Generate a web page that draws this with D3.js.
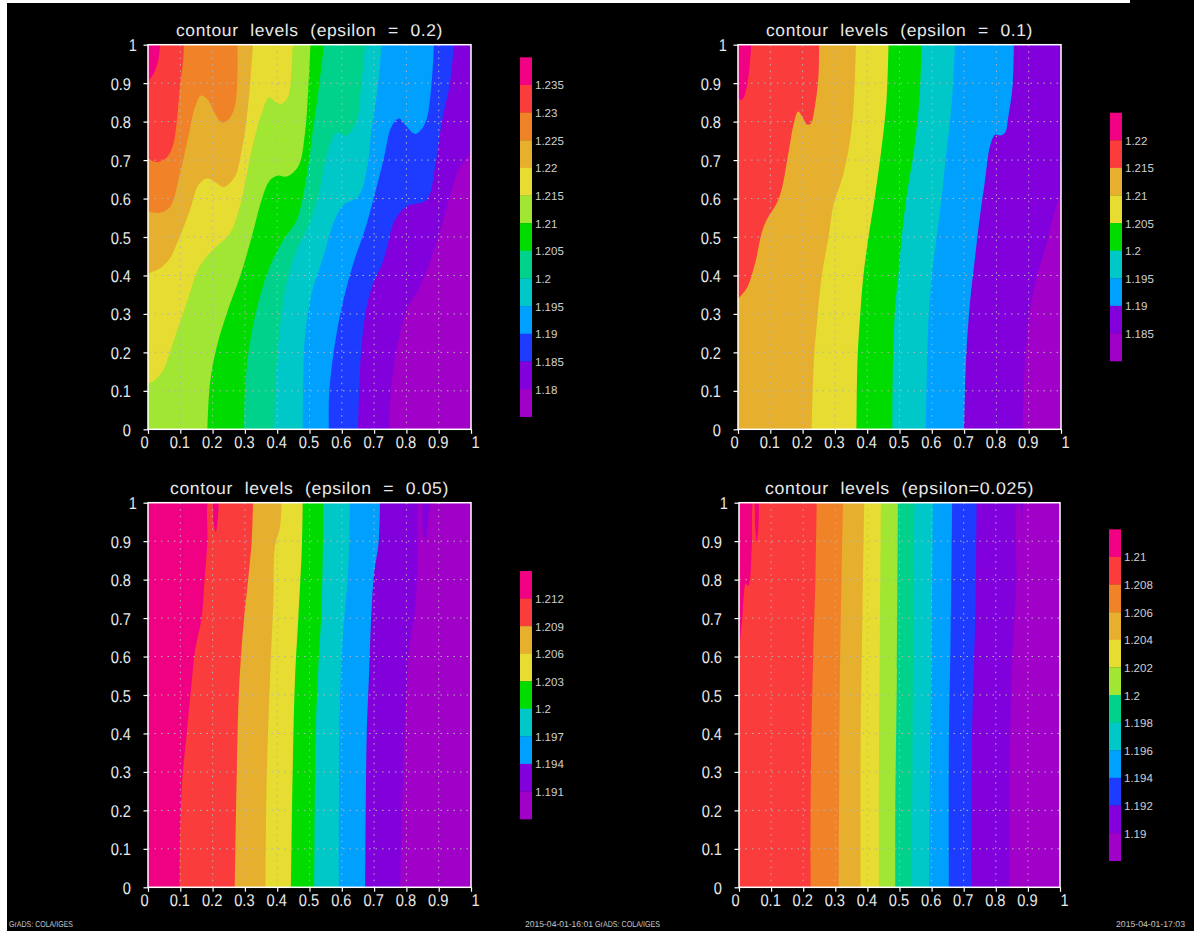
<!DOCTYPE html>
<html><head><meta charset="utf-8">
<script src="https://cdn.jsdelivr.net/npm/d3@7"></script>
<style>
html,body{margin:0;padding:0;background:#fff}
svg{display:block}
text{font-family:"Liberation Sans",sans-serif;text-rendering:geometricPrecision}
.title{word-spacing:6px;letter-spacing:.6px}
</style></head><body><svg id="c" width="1194" height="931"></svg>
<script>
// GrADS default colours
const magenta="#f00082",red="#fa3c3c",orange="#f08228",gold="#e6af2d",yellow="#e6dc32",lime="#a0e632",
      green="#00dc00",sea="#00d28c",cyan="#00c8c8",sky="#00a0ff",blue="#1e3cff",violet="#8200dc",purple="#a000c8";

const titles=["contour levels (epsilon = 0.2)","contour levels (epsilon = 0.1)","contour levels (epsilon = 0.05)","contour levels (epsilon=0.025)"];

const levelsA=["1.235","1.23","1.225","1.22","1.215","1.21","1.205","1.2","1.195","1.19","1.185","1.18"];
const levelsB=["1.22","1.215","1.21","1.205","1.2","1.195","1.19","1.185"];
const levelsC=["1.212","1.209","1.206","1.203","1.2","1.197","1.194","1.191"];
const levelsD=["1.21","1.208","1.206","1.204","1.202","1.2","1.198","1.196","1.194","1.192","1.19"];

const coloursA=[magenta,red,orange,gold,yellow,lime,green,sea,cyan,sky,blue,violet,purple];
const coloursB=[magenta,red,gold,yellow,green,cyan,sky,violet,purple];
const coloursC=[magenta,red,gold,yellow,green,cyan,sky,violet,purple];
const coloursD=[magenta,red,orange,gold,yellow,lime,sea,cyan,sky,blue,violet,purple];

// contour lines in data coordinates [x,y], one per level
const contoursA=[
[[.037,1],[.032,.96],[.018,.925],[0,.905]],
[[.111,1],[.109,.96],[.099,.89],[.089,.80],[.078,.74],[.058,.707],[.027,.695],[0,.705]],
[[.277,1],[.277,.917],[.269,.84],[.249,.805],[.228,.798],[.207,.822],[.184,.858],[.164,.868],[.146,.839],[.125,.761],[.099,.665],[.068,.578],[.037,.563],[0,.566]],
[[.325,1],[.318,.917],[.305,.805],[.290,.726],[.269,.657],[.235,.63],[.213,.64],[.184,.653],[.156,.635],[.13,.57],[.094,.492],[.068,.445],[.037,.419],[0,.405]],
[[.448,1],[.445,.943],[.434,.865],[.414,.846],[.393,.852],[.375,.863],[.352,.822],[.321,.726],[.29,.598],[.254,.51],[.202,.468],[.161,.425],[.12,.33],[.084,.241],[.047,.154],[.022,.128],[0,.118]],
[[.503,1],[.496,.882],[.486,.77],[.465,.683],[.429,.657],[.404,.66],[.378,.648],[.352,.597],[.321,.50],[.285,.397],[.244,.302],[.213,.215],[.192,.12],[.184,0]],
[[.545,1],[.527,.873],[.512,.787],[.491,.657],[.46,.544],[.419,.492],[.378,.425],[.336,.31],[.311,.198],[.300,.094],[.297,0]],
[[.672,1],[.661,.9],[.646,.804],[.615,.764],[.584,.771],[.558,.726],[.527,.605],[.496,.527],[.46,.466],[.429,.38],[.409,.267],[.396,.137],[.391,0]],
[[.723,1],[.713,.9],[.692,.778],[.677,.674],[.651,.605],[.605,.583],[.574,.536],[.543,.449],[.507,.354],[.486,.241],[.481,.137],[.479,0]],
[[.885,1],[.878,.9],[.858,.796],[.827,.768],[.801,.787],[.777,.808],[.754,.787],[.729,.70],[.698,.598],[.672,.52],[.636,.432],[.605,.336],[.579,.224],[.561,.094],[.56,0]],
[[.947,1],[.935,.9],[.909,.796],[.889,.683],[.863,.597],[.801,.58],[.765,.545],[.729,.44],[.687,.354],[.662,.224],[.651,0]],
[[1,.716],[.966,.683],[.935,.605],[.899,.5],[.842,.371],[.801,.31],[.77,.206],[.751,.094],[.747,0]]
];
const contoursB=[
[[.041,1],[.035,.934],[.022,.873],[.011,.856],[0,.86]],
[[.251,1],[.249,.917],[.238,.839],[.226,.796],[.215,.792],[.2,.811],[.186,.826],[.173,.796],[.156,.718],[.135,.623],[.12,.588],[.089,.545],[.073,.51],[.053,.432],[.027,.367],[0,.34]],
[[.365,1],[.357,.83],[.342,.726],[.321,.648],[.297,.589],[.28,.5],[.259,.397],[.246,.293],[.235,.18],[.228,0]],
[[.466,1],[.46,.856],[.445,.735],[.424,.606],[.404,.5],[.388,.397],[.378,.293],[.37,.18],[.367,0]],
[[.568,1],[.563,.873],[.545,.726],[.522,.606],[.507,.5],[.496,.397],[.486,.31],[.479,.137],[.478,0]],
[[.672,1],[.661,.839],[.646,.726],[.631,.606],[.615,.5],[.6,.397],[.589,.267],[.582,0]],
[[.854,1],[.85,.891],[.837,.813],[.827,.771],[.811,.764],[.796,.766],[.78,.735],[.765,.648],[.749,.553],[.733,.44],[.718,.327],[.706,.18],[.7,0]],
[[1,.618],[.976,.553],[.95,.467],[.925,.397],[.904,.31],[.889,.18],[.881,0]]
];
const contoursC=[
[[.219,1],[.216,.955],[.21,.924],[.203,.946],[.198,1],[.187,1],[.184,.9],[.175,.8],[.166,.7],[.146,.618],[.135,.531],[.12,.4],[.106,.279],[.099,.132],[.098,0]],
[[.325,1],[.321,.9],[.311,.808],[.297,.695],[.287,.591],[.28,.479],[.275,.305],[.269,0]],
[[.413,1],[.409,.938],[.393,.886],[.388,.74],[.378,.55],[.367,.262],[.364,0]],
[[.479,1],[.476,.877],[.465,.695],[.455,.539],[.448,.305],[.443,0]],
[[.543,1],[.538,.738],[.527,.565],[.519,.392],[.515,0]],
[[.625,1],[.62,.825],[.603,.652],[.594,.477],[.591,0]],
[[.718,1],[.714,.895],[.7,.817],[.692,.72],[.685,.565],[.677,.392],[.673,0]],
[[.873,1],[.865,.938],[.859,.903],[.85,.938],[.846,1],[.839,1],[.835,.877],[.827,.72],[.811,.635],[.801,.522],[.79,.305],[.782,0]]
];
const contoursD=[
[[.062,1],[.06,.93],[.055,.9],[.05,.938],[.047,1],[.044,1],[.04,.894],[.032,.79],[.027,.784],[.021,.79],[.01,.695],[0,.612]],
[[.242,1],[.238,.8],[.231,.6],[.224,.305],[.223,0]],
[[.324,1],[.32,.825],[.314,.523],[.311,0]],
[[.39,1],[.385,.738],[.379,.392],[.379,0]],
[[.442,1],[.439,.652],[.436,.305],[.436,0]],
[[.495,1],[.492,.565],[.487,.218],[.487,0]],
[[.546,1],[.543,.652],[.538,0]],
[[.604,1],[.6,.652],[.594,.218],[.593,0]],
[[.664,1],[.659,.635],[.654,.392],[.654,0]],
[[.74,1],[.737,.738],[.726,.392],[.724,0]],
[[.886,1],[.88,.947],[.875,1],[.868,1],[.864,.79],[.852,.6],[.843,.305],[.842,0]]
];

const xTicks=[0,.1,.2,.3,.4,.5,.6,.7,.8,.9,1];
const yTicks=[0,.1,.2,.3,.4,.5,.6,.7,.8,.9,1];
const footers=[["GrADS: COLA/IGES",9,64],["2015-04-01-16:01",525,68],["GrADS: COLA/IGES",595,65],["2015-04-01-17:03",1116,69]];

const series=[
 {title:titles[0],levels:levelsA,colours:coloursA,contours:contoursA},
 {title:titles[1],levels:levelsB,colours:coloursB,contours:contoursB},
 {title:titles[2],levels:levelsC,colours:coloursC,contours:contoursC},
 {title:titles[3],levels:levelsD,colours:coloursD,contours:contoursD}];

// layout, separate from values
const layouts=[
 {l:148,r:471,t:44.7,b:429.3,tx:176,tw:267,tb:36,barX:520,barT:57.3,barB:416.7},
 {l:738,r:1061,t:44.7,b:429.3,tx:766,tw:267,tb:36,barX:1110,barT:112.7,barB:361},
 {l:148,r:471,t:502.7,b:887.3,tx:170,tw:279,tb:494,barX:520,barT:571,barB:819},
 {l:739,r:1060,t:502.7,b:887.3,tx:765,tw:269,tb:494,barX:1109,barT:529.3,barB:860.7}];

const svg=d3.select("#c");
svg.append("rect").attr("width",1194).attr("height",931).attr("fill","#fff");
svg.append("rect").attr("x",7).attr("y",0).attr("width",1187).attr("height",931).attr("fill","#000");
svg.append("rect").attr("x",0).attr("y",0).attr("width",1130).attr("height",3).attr("fill","#fff");

const TICK_SX=0.86;
series.forEach((s,pi)=>{
  const L=layouts[pi];
  const xs=d3.scaleLinear().domain([0,1]).range([L.l,L.r]);
  const ys=d3.scaleLinear().domain([0,1]).range([L.b,L.t]);
  const g=svg.append("g");
  const clipId="clip"+pi;
  g.append("clipPath").attr("id",clipId).append("rect")
    .attr("x",L.l).attr("y",L.t).attr("width",L.r-L.l).attr("height",L.b-L.t);
  const plot=g.append("g").attr("clip-path",`url(#${clipId})`);
  // lowest band fills the whole plot
  plot.append("rect").attr("x",L.l).attr("y",L.t).attr("width",L.r-L.l).attr("height",L.b-L.t)
    .attr("fill",s.colours[s.colours.length-1]);
  const curve=d3.line().x(d=>xs(d[0])).y(d=>ys(d[1])).curve(d3.curveCatmullRom.alpha(.5));
  const order=d3.range(s.contours.length).reverse();
  plot.selectAll("path.band").data(order).join("path").attr("class","band")
    .attr("fill",i=>s.colours[i])
    .attr("d",i=>{
      const c=s.contours[i], first=c[0], last=c[c.length-1];
      const close=[[0,last[1]],[0,1]];
      if(first[1]<1) close.push([first[0],1]);
      return curve(c)+close.map(p=>`L${xs(p[0])},${ys(p[1])}`).join("")+"Z";
    });
  // dotted grid
  const grid=g.append("g").attr("stroke","#b4b4b4").attr("stroke-width",1).attr("stroke-dasharray","1.5 5");
  grid.selectAll("line.v").data(xTicks.slice(1,-1)).join("line").attr("class","v")
    .attr("x1",d=>xs(d)).attr("x2",d=>xs(d)).attr("y1",L.t).attr("y2",L.b);
  grid.selectAll("line.h").data(yTicks.slice(1,-1)).join("line").attr("class","h")
    .attr("x1",L.l).attr("x2",L.r).attr("y1",d=>ys(d)).attr("y2",d=>ys(d));
  // axes
  const ax=g.append("g").attr("transform",`translate(0,${L.b})`)
    .call(d3.axisBottom(xs).tickValues(xTicks).tickFormat(d3.format("")).tickSize(4.5).tickSizeOuter(0));
  const ay=g.append("g").attr("transform",`translate(${L.l},0)`)
    .call(d3.axisLeft(ys).tickValues(yTicks).tickFormat(d3.format("")).tickSize(4.5).tickSizeOuter(0));
  [ax,ay].forEach(a=>{
    a.select(".domain").remove();
    a.selectAll("line").attr("stroke","#fff").attr("stroke-width",1.2);
    a.selectAll("text").attr("fill","#e8e8e8").attr("font-size",17).attr("font-family",'"Liberation Sans",sans-serif');
  });
  ax.selectAll("text").attr("dy",null).attr("y",0).attr("text-anchor","middle")
    .attr("transform",d=>`translate(${d===0?-4:d===1?4:-1},19) scale(${TICK_SX},1)`);
  ay.selectAll("text").attr("dy",null).attr("x",0).attr("text-anchor","end")
    .attr("transform",d=>`translate(${d===1?-11:-17},6) scale(${TICK_SX},1)`);
  // border
  g.append("rect").attr("x",L.l).attr("y",L.t).attr("width",L.r-L.l).attr("height",L.b-L.t)
    .attr("fill","none").attr("stroke","#fff").attr("stroke-width",1.5);
  // title
  g.append("text").attr("class","title").attr("x",L.tx).attr("y",L.tb).text(s.title).attr("fill","#e8e8e8")
    .attr("font-size",17).attr("textLength",L.tw).attr("lengthAdjust","spacingAndGlyphs");
  // colour bar
  const barY=d3.scaleLinear().domain([0,s.colours.length]).range([L.barT,L.barB]);
  g.selectAll("rect.seg").data(s.colours).join("rect").attr("class","seg")
    .attr("x",L.barX).attr("width",12)
    .attr("y",(d,i)=>barY(i)).attr("height",(d,i)=>barY(i+1)-barY(i)+.3)
    .attr("fill",d=>d);
  g.selectAll("text.lev").data(s.levels).join("text").attr("class","lev")
    .attr("x",L.barX+15).attr("y",(d,i)=>barY(i+1)+4.5)
    .attr("fill","#cfcfcf").attr("font-size",11.5).text(d=>d);
});
svg.selectAll("text.foot").data(footers).join("text").attr("class","foot")
  .attr("x",d=>d[1]).attr("y",927).attr("textLength",d=>d[2]).attr("lengthAdjust","spacingAndGlyphs")
  .attr("font-size",8.5).attr("fill","#c8c8c8").text(d=>d[0]);
</script></body></html>
